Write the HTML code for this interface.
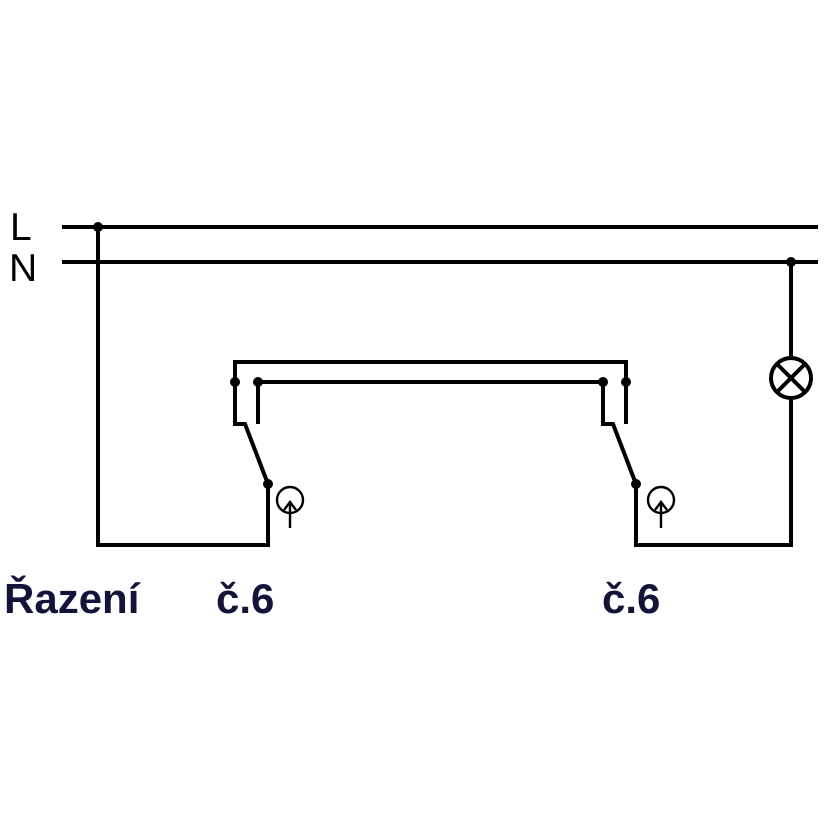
<!DOCTYPE html>
<html><head><style>
html,body{margin:0;padding:0;background:#fff;}
svg{display:block;}
</style></head><body>
<svg width="830" height="830" viewBox="0 0 830 830" xmlns="http://www.w3.org/2000/svg">
<g stroke="#000" stroke-width="4" fill="none" stroke-linejoin="miter" stroke-linecap="butt">
<line x1="62" y1="227" x2="818" y2="227"/>
<line x1="62" y1="262" x2="818" y2="262"/>
<polyline points="98,227 98,545 268,545 268,484 245,424 235,424 235,362 626,362 626,424"/>
<polyline points="258,424 258,382 603,382 603,424 613,424 636,484 636,545 791,545 791,398"/>
<line x1="791" y1="262" x2="791" y2="358"/>
<circle cx="791" cy="378" r="20"/>
<line x1="777" y1="364" x2="805" y2="392"/>
<line x1="805" y1="364" x2="777" y2="392"/>
</g>
<g stroke="#000" stroke-width="2.4" fill="none">
<circle cx="290" cy="500" r="13"/>
<line x1="290" y1="528" x2="290" y2="502"/>
<polyline points="284,510 290,502 296,510"/>
<circle cx="661" cy="500" r="13"/>
<line x1="661" y1="528" x2="661" y2="502"/>
<polyline points="655,510 661,502 667,510"/>
</g>
<g fill="#000">
<circle cx="98" cy="227" r="5"/>
<circle cx="791" cy="262" r="5"/>
<circle cx="235" cy="382" r="5"/>
<circle cx="258" cy="382" r="5"/>
<circle cx="603" cy="382" r="5"/>
<circle cx="626" cy="382" r="5"/>
<circle cx="268" cy="484" r="5"/>
<circle cx="636" cy="484" r="5"/>
</g>
<g font-family="Liberation Sans, sans-serif" font-size="39" fill="#000">
<text x="10" y="240">L</text>
<text x="9" y="281">N</text>
</g>
<g font-family="Liberation Sans, sans-serif" font-size="42" font-weight="bold" fill="#14143a">
<text x="4" y="613">Řazení</text>
<text x="216" y="613">č.6</text>
<text x="602" y="613">č.6</text>
</g>
</svg>
</body></html>
